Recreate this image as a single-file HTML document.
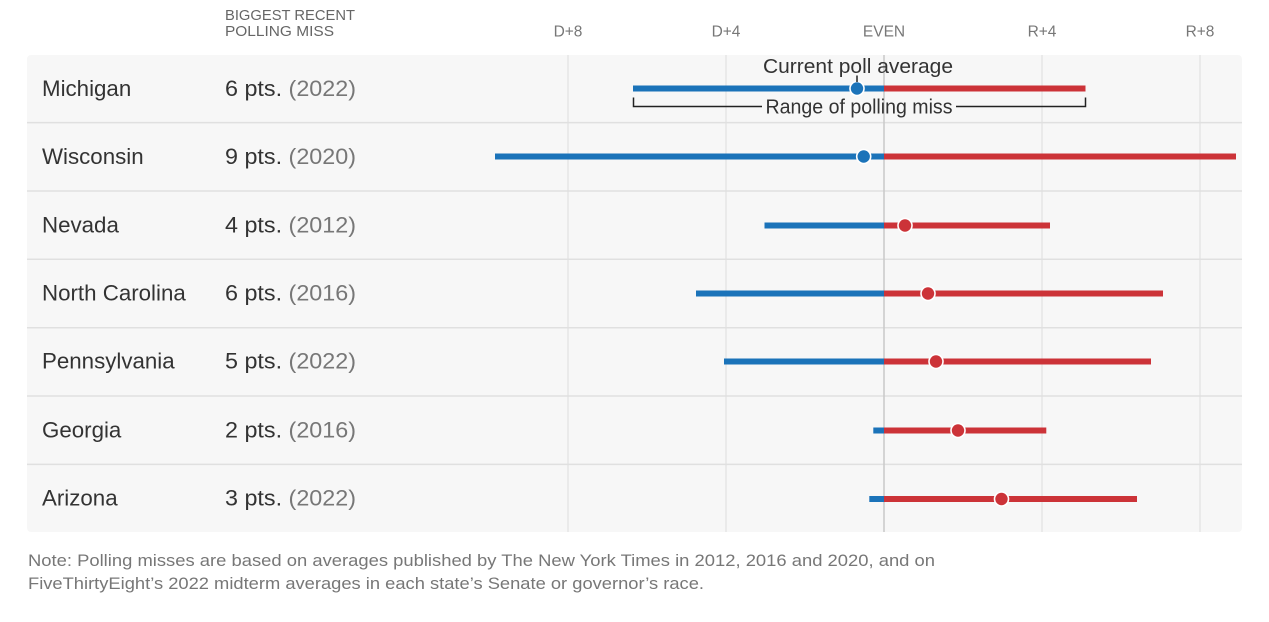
<!DOCTYPE html>
<html>
<head>
<meta charset="utf-8">
<style>
  html, body { margin: 0; padding: 0; background: #ffffff; }
  body { width: 1269px; height: 622px; overflow: hidden; }
  svg { display: block; }
  text { font-family: "Liberation Sans", Arial, sans-serif; }
</style>
</head>
<body>
<svg width="1269" height="622" viewBox="0 0 1269 622" xmlns="http://www.w3.org/2000/svg">
  <!-- header -->
  <text x="225" y="20" font-size="15" fill="#666" textLength="130" lengthAdjust="spacingAndGlyphs">BIGGEST RECENT</text>
  <text x="225" y="36" font-size="15" fill="#666" textLength="109" lengthAdjust="spacingAndGlyphs">POLLING MISS</text>

  <!-- axis labels -->
  <g font-size="15.5" fill="#777" text-anchor="middle">
    <text x="568" y="36.5">D+8</text>
    <text x="726" y="36.5">D+4</text>
    <text x="884" y="36.5">EVEN</text>
    <text x="1042" y="36.5">R+4</text>
    <text x="1200" y="36.5">R+8</text>
  </g>

  <!-- panel -->
  <rect x="27" y="55" width="1215" height="477" rx="4" fill="#f7f7f7"/>

  <!-- grid lines -->
  <g stroke="#e6e6e6" stroke-width="1.5">
    <line x1="568" y1="55" x2="568" y2="532"/>
    <line x1="726" y1="55" x2="726" y2="532"/>
    <line x1="1042" y1="55" x2="1042" y2="532"/>
    <line x1="1200" y1="55" x2="1200" y2="532"/>
  </g>

  <!-- row separators -->
  <g stroke="#e0e0e0" stroke-width="1.5">
    <line x1="27" y1="122.6" x2="1242" y2="122.6"/>
    <line x1="27" y1="191" x2="1242" y2="191"/>
    <line x1="27" y1="259.3" x2="1242" y2="259.3"/>
    <line x1="27" y1="327.7" x2="1242" y2="327.7"/>
    <line x1="27" y1="396" x2="1242" y2="396"/>
    <line x1="27" y1="464.4" x2="1242" y2="464.4"/>
  </g>

  <!-- even line -->
  <line x1="884" y1="55" x2="884" y2="532" stroke="#c9c9c9" stroke-width="1.5"/>

  <!-- row labels -->
  <g font-size="22.3" fill="#333">
    <text x="42" y="96">Michigan</text>
    <text x="42" y="164">Wisconsin</text>
    <text x="42" y="232.5">Nevada</text>
    <text x="42" y="300.5">North Carolina</text>
    <text x="42" y="368.5">Pennsylvania</text>
    <text x="42" y="437.5">Georgia</text>
    <text x="42" y="505.5">Arizona</text>
  </g>
  <g font-size="22.3" fill="#333">
    <text x="225" y="96" textLength="131" lengthAdjust="spacingAndGlyphs">6 pts. <tspan fill="#777">(2022)</tspan></text>
    <text x="225" y="164" textLength="131" lengthAdjust="spacingAndGlyphs">9 pts. <tspan fill="#777">(2020)</tspan></text>
    <text x="225" y="232.5" textLength="131" lengthAdjust="spacingAndGlyphs">4 pts. <tspan fill="#777">(2012)</tspan></text>
    <text x="225" y="300.5" textLength="131" lengthAdjust="spacingAndGlyphs">6 pts. <tspan fill="#777">(2016)</tspan></text>
    <text x="225" y="368.5" textLength="131" lengthAdjust="spacingAndGlyphs">5 pts. <tspan fill="#777">(2022)</tspan></text>
    <text x="225" y="437.5" textLength="131" lengthAdjust="spacingAndGlyphs">2 pts. <tspan fill="#777">(2016)</tspan></text>
    <text x="225" y="505.5" textLength="131" lengthAdjust="spacingAndGlyphs">3 pts. <tspan fill="#777">(2022)</tspan></text>
  </g>

  <!-- ranges -->
  <g stroke-width="6" fill="none">
    <line x1="633" y1="88.5" x2="884" y2="88.5" stroke="#1b73b9"/>
    <line x1="884" y1="88.5" x2="1085.5" y2="88.5" stroke="#cc3338"/>
    <line x1="495" y1="156.5" x2="884" y2="156.5" stroke="#1b73b9"/>
    <line x1="884" y1="156.5" x2="1236" y2="156.5" stroke="#cc3338"/>
    <line x1="764.5" y1="225.5" x2="884" y2="225.5" stroke="#1b73b9"/>
    <line x1="884" y1="225.5" x2="1050" y2="225.5" stroke="#cc3338"/>
    <line x1="696" y1="293.5" x2="884" y2="293.5" stroke="#1b73b9"/>
    <line x1="884" y1="293.5" x2="1163" y2="293.5" stroke="#cc3338"/>
    <line x1="724" y1="361.5" x2="884" y2="361.5" stroke="#1b73b9"/>
    <line x1="884" y1="361.5" x2="1151" y2="361.5" stroke="#cc3338"/>
    <line x1="873.3" y1="430.5" x2="884" y2="430.5" stroke="#1b73b9"/>
    <line x1="884" y1="430.5" x2="1046.3" y2="430.5" stroke="#cc3338"/>
    <line x1="869.3" y1="499" x2="884" y2="499" stroke="#1b73b9"/>
    <line x1="884" y1="499" x2="1137" y2="499" stroke="#cc3338"/>
  </g>

  <!-- dots -->
  <g stroke="#ffffff" stroke-width="1.6">
    <circle cx="857" cy="88.5" r="7" fill="#1b73b9"/>
    <circle cx="863.7" cy="156.5" r="7" fill="#1b73b9"/>
    <circle cx="905" cy="225.5" r="7" fill="#cc3338"/>
    <circle cx="928" cy="293.5" r="7" fill="#cc3338"/>
    <circle cx="936" cy="361.5" r="7" fill="#cc3338"/>
    <circle cx="958" cy="430.5" r="7" fill="#cc3338"/>
    <circle cx="1001.5" cy="499" r="7" fill="#cc3338"/>
  </g>

  <!-- Michigan annotations -->
  <text x="858" y="73" font-size="20.5" fill="#333" text-anchor="middle" textLength="190" lengthAdjust="spacingAndGlyphs">Current poll average</text>
  <line x1="857" y1="75.5" x2="857" y2="82" stroke="#222" stroke-width="1.5"/>
  <path d="M633.5,97.5 V106.5 H762 M956,106.5 H1085.5 V97.5" stroke="#222" stroke-width="1.5" fill="none"/>
  <text x="859" y="113.5" font-size="20" fill="#333" text-anchor="middle" textLength="187" lengthAdjust="spacingAndGlyphs">Range of polling miss</text>

  <!-- note -->
  <text x="28" y="566" font-size="17" fill="#777" textLength="907" lengthAdjust="spacingAndGlyphs">Note: Polling misses are based on averages published by The New York Times in 2012, 2016 and 2020, and on</text>
  <text x="28" y="589" font-size="17" fill="#777" textLength="676" lengthAdjust="spacingAndGlyphs">FiveThirtyEight’s 2022 midterm averages in each state’s Senate or governor’s race.</text>
</svg>
</body>
</html>
